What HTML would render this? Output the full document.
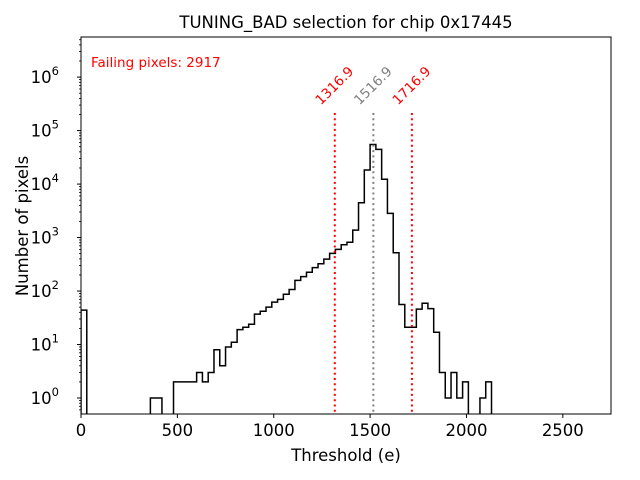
<!DOCTYPE html>
<html><head><meta charset="utf-8"><style>
body{margin:0;background:#fff}
svg{display:block;font-family:"DejaVu Sans","Liberation Sans",sans-serif}
</style></head><body>
<svg id="chart" width="640" height="480" viewBox="0 0 640 480">
<text x="346" y="28" font-size="16.5" text-anchor="middle">TUNING_BAD selection for chip 0x17445</text>
<text x="346" y="461" font-size="16.5" text-anchor="middle">Threshold (e)</text>
<text transform="translate(28,226) rotate(-90)" font-size="16.5" text-anchor="middle">Number of pixels</text>
<text x="91" y="67" font-size="13.5" fill="#ff0000">Failing pixels: 2917</text>
<g id="plot"></g>
</svg>
<script>
const binStart = 0;
const binWidth = 30;
const counts = [44,0,0,0,0,0,0,0,0,0,0,0,1,1,0,0,2,2,2,2,3,2,3,8,4,9,11,19,21,24,37,42,50,62,70,87,107,158,186,224,274,324,395,505,600,735,815,1380,4470,18300,55000,44600,12300,2830,520,56,21,21,46,59,47,17,3,1,3,1,2,0,0,1,2];
const xTicks = [0,500,1000,1500,2000,2500];
const yExps = [0,1,2,3,4,5,6];
const cutValues = [1316.9,1516.9,1716.9];
const cutLabels = ["1316.9","1516.9","1716.9"];
const cutColors = ["#ff0000","#808080","#ff0000"];

const L=81,R=611,T=37,B=414,xMax=2750;
const yLogMin=-0.299, yLogMax=6.75;
const sx=v=>L+(v/xMax)*(R-L);
const sy=v=>v<=0?B+2:B-(Math.log10(v)-yLogMin)/(yLogMax-yLogMin)*(B-T);
const NS="http://www.w3.org/2000/svg";
const g=document.getElementById('plot');
function mk(tag,attrs){const e=document.createElementNS(NS,tag);for(const k in attrs)e.setAttribute(k,attrs[k]);g.appendChild(e);return e;}

const defs=mk('defs',{});
const cp=document.createElementNS(NS,'clipPath');cp.setAttribute('id','pc');
const cr=document.createElementNS(NS,'rect');cr.setAttribute('x',L);cr.setAttribute('y',T);cr.setAttribute('width',R-L);cr.setAttribute('height',B-T);
cp.appendChild(cr);defs.appendChild(cp);

let d=`M${sx(binStart)},${B+2}`;
counts.forEach((c,i)=>{const x0=sx(binStart+i*binWidth),x1=sx(binStart+(i+1)*binWidth);d+=` L${x0},${sy(c)} L${x1},${sy(c)}`;});
d+=` L${sx(binStart+counts.length*binWidth)},${B+2}`;
const hp=mk('path',{d:d,fill:'none',stroke:'#000','stroke-width':1.5,'clip-path':'url(#pc)'});



cutValues.forEach((v,i)=>{
  const ln=mk('line',{x1:sx(v),x2:sx(v),y1:113,y2:B,stroke:cutColors[i],'stroke-width':2,'stroke-dasharray':'2,3.3'});
  
  
  const t=mk('text',{x:sx(v),y:86,'font-size':13.5,fill:cutColors[i],'text-anchor':'middle','dominant-baseline':'central',transform:`rotate(-45 ${sx(v)} 86)`});
  t.textContent=cutLabels[i];
  
  
});

const fr=mk('rect',{x:L,y:T,width:R-L,height:B-T,fill:'none',stroke:'#000','stroke-width':1});



xTicks.forEach(v=>{
  mk('line',{x1:sx(v),x2:sx(v),y1:B,y2:B+4,stroke:'#000','stroke-width':1});
  const t=mk('text',{x:sx(v),y:B+22,'font-size':16.5,'text-anchor':'middle'});
  t.textContent=v;
  
  
});
yExps.forEach(e=>{
  const y=sy(Math.pow(10,e));
  mk('line',{x1:L-4,x2:L,y1:y,y2:y,stroke:'#000','stroke-width':1});
  const t=mk('text',{x:L-22,y:y+6,'font-size':16.5,'text-anchor':'end'});
  t.textContent='10';
  const s=document.createElementNS(NS,'tspan');s.setAttribute('dy','-8');s.setAttribute('font-size','11.5');s.textContent=e;t.appendChild(s);
  
  
});
for(let e=-1;e<=6;e++)for(let m=2;m<=9;m++){const v=m*Math.pow(10,e);const y=sy(v);if(y<T||y>B)continue;mk('line',{x1:L-2,x2:L,y1:y,y2:y,stroke:'#000','stroke-width':0.8});}
</script>
</body></html>
